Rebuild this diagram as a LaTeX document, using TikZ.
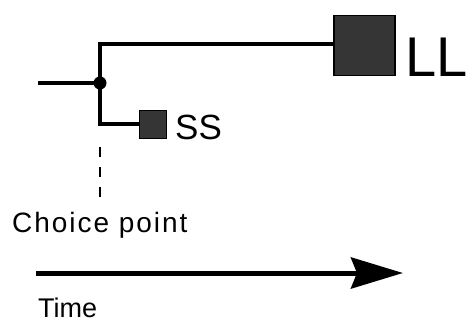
\documentclass[tikz,border=0pt]{standalone}
\usepackage{fontspec}
\setmainfont{Liberation Sans}
\usetikzlibrary{arrows.meta}
\definecolor{boxfill}{HTML}{353535}
\begin{document}
\begin{tikzpicture}[x=1pt,y=-1pt,
  branch/.style={line width=4pt,line join=miter},
  reward/.style={draw=black,line width=1.5pt,fill=boxfill,inner sep=0pt,outer sep=0pt},
  junction/.style={circle,fill=black,inner sep=0pt,minimum size=13pt},
  label/.style={inner sep=0pt,anchor=base west}]
\useasboundingbox (0,0) rectangle (470,326);

% choice structure
\coordinate (in) at (38,83);
\node[junction] (cp) at (100,83) {};
\coordinate (up) at (100,44);
\coordinate (down) at (100,124);
\node[reward,minimum width=61pt,minimum height=60pt] (LL) at (364.5,45.5) {};
\node[reward,minimum width=27pt,minimum height=28pt] (SS) at (153,124.5) {};

\draw[branch] (in) -- (cp.center);
\draw[branch] (cp.center) -- (up) -- (LL.west |- up);
\draw[branch] (cp.center) -- (down) -- (SS.west |- down);

\node[label,font=\fontsize{56}{56}\selectfont] (LLt) at (405,77) {LL};
\node[label,font=\fontsize{35}{35}\selectfont] (SSt) at (175,139) {SS};

% choice point marker
\coordinate (dtop) at (100,147);
\coordinate (dbot) at (100,200);
\draw[line width=2.5pt,dash pattern=on 10pt off 10pt] (dtop) -- (dbot);
\node[label,font=\fontsize{28}{28}\selectfont\addfontfeatures{LetterSpace=7}] (cpt) at (12,232) {Choice point};

% time axis
\coordinate (t0) at (36,273);
\coordinate (t1) at (403,273);
\draw[line width=5pt,-{Stealth[length=52pt,width=31pt,inset=6pt]}] (t0) -- (t1);
\node[label,font=\fontsize{27}{27}\selectfont] (time) at (38,317) {Time};
\end{tikzpicture}
\end{document}
